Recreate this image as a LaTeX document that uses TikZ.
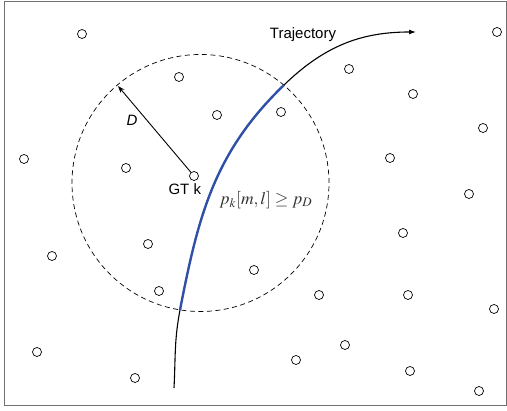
\documentclass[tikz,border=0pt]{standalone}
\usepackage{mathptmx}
\usepackage{fontspec}
\setmainfont{Liberation Sans}
\usepackage{tikz}
\usetikzlibrary{arrows.meta,positioning,calc}
\definecolor{trajblue}{HTML}{3050A8}
\definecolor{framegray}{HTML}{707070}
\definecolor{labelgray}{HTML}{333333}
\begin{document}
\begin{tikzpicture}[x=1pt,y=1pt,
    gtnode/.style={circle,draw,inner sep=0pt,minimum size=9pt,line width=0.7pt},
    every node/.append style={font=\fontsize{15}{18}\selectfont}]
    \useasboundingbox (0,0) rectangle (507,411);
    \draw[framegray,line width=1pt] (4,5) rectangle (506.5,409);
    % ground terminals
    \foreach \x/\y [count=\i] in {82/377,497/379,349/342,179/334,413/317,217/296,281/299,483/283,
      24/252,126/243,390/253,469/217,403/178,52/155,148/167,254/141,159/120,319/116,408/116,
      494/102,345/66,37/59,296/51,135/33,410/40,479/20}
      \node[gtnode] (t\i) at (\x,\y) {};
    \node[gtnode] (gtk) at (194,235) {};
    \node[below left=1pt and -14pt of gtk] (gtklabel) {GT k};
    % coverage disc
    \draw[dashed,line width=0.7pt,dash pattern=on 5pt off 3.5pt] (200.5,228) circle (128.5);
    \coordinate (rim) at (118,325);
    \draw[-{Stealth[length=7pt,width=5pt]},line width=0.9pt] (gtk) -- (rim)
      node[pos=0.6,left=6pt] (dlabel) {\textit{D}};
    % trajectory
    \coordinate (start) at (174,23);
    \coordinate (enter) at (180,101);
    \coordinate (leave) at (284,326);
    \coordinate (tend) at (416,379);
    \draw[line width=1.1pt] (start) to[out=87,in=259] (enter);
    \draw[trajblue,line width=2.4pt] (enter) to[out=79,in=224] (leave);
    \draw[line width=1.1pt,-{Latex[length=7pt,width=5pt]}] (leave) to[out=44,in=180] (tend);
    \node (trajlabel) at (303,376) {Trajectory};
    \node[labelgray,font=\fontsize{17.5}{20}\selectfont] (cond) at (266,211) {$p_k[m,l]\geq p_D$};
\end{tikzpicture}
\end{document}
